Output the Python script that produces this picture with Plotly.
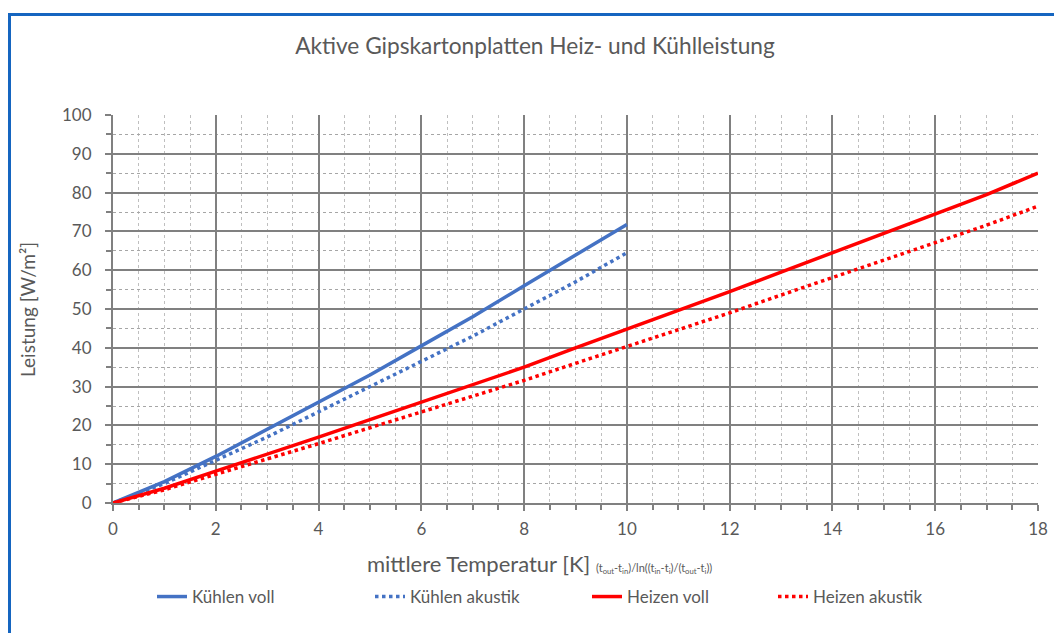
import plotly.graph_objects as go

x_kuehlen = [0, 1, 2, 3, 4, 5, 6, 7, 8, 9, 10]
y_kuehlen_voll = [0, 5.5, 12, 19, 26, 33, 40.5, 48, 56, 64, 71.8]
y_kuehlen_akustik = [0, 5, 11, 17, 23.5, 30, 36.5, 43, 50, 57, 64.5]

x_heizen = [0, 1, 2, 3, 4, 5, 6, 7, 8, 9, 10, 11, 12, 13, 14, 15, 16, 17, 18]
y_heizen_voll = [0, 3.8, 8.2, 12.5, 17, 21.5, 26, 30.5, 35, 40, 44.8, 49.5, 54.5,
                 59.5, 64.5, 69.5, 74.5, 79.5, 85]
y_heizen_akustik = [0, 3.4, 7.4, 11.3, 15.3, 19.4, 23.4, 27.5, 31.6, 36, 40.3, 44.6,
                    49, 53.6, 58.1, 62.6, 67.1, 71.6, 76.5]

x_ticks = [0, 2, 4, 6, 8, 10, 12, 14, 16, 18]
y_ticks = [0, 10, 20, 30, 40, 50, 60, 70, 80, 90, 100]

FONT = "Lato, Carlito, Calibri, sans-serif"
TXT = "#595959"
BLUE = "#4472C4"
RED = "#FF0000"

# figure is placed by the page at offset (8, 8)
W, H = 1054, 625
L, R, T, B = 105, 24, 107, 130
PW, PH = W - L - R, H - T - B


def px_to_paper_x(page_x):
    return (page_x - 8 - L) / PW


def px_to_paper_y(page_y):
    return (H - B - (page_y - 8)) / PH


fig = go.Figure()
fig.add_trace(go.Scatter(x=x_kuehlen, y=y_kuehlen_voll, mode="lines", name="Kühlen voll",
                         line=dict(color=BLUE, width=3.5), legend="legend"))
fig.add_trace(go.Scatter(x=x_kuehlen, y=y_kuehlen_akustik, mode="lines", name="Kühlen akustik",
                         line=dict(color=BLUE, width=3.5, dash="dot"), legend="legend2"))
fig.add_trace(go.Scatter(x=x_heizen, y=y_heizen_voll, mode="lines", name="Heizen voll",
                         line=dict(color=RED, width=3.5), legend="legend3"))
fig.add_trace(go.Scatter(x=x_heizen, y=y_heizen_akustik, mode="lines", name="Heizen akustik",
                         line=dict(color=RED, width=3.5, dash="dot"), legend="legend4"))

axis_common = dict(
    showgrid=True, gridcolor="#808080", gridwidth=1.5,
    showline=True, linecolor="#808080", linewidth=2,
    ticks="outside", ticklen=6, tickcolor="#808080", tickwidth=1.5,
    tickfont=dict(family=FONT, size=17, color=TXT),
    zeroline=False, mirror=False,
)

fig.update_xaxes(
    range=[0, 18], tickvals=x_ticks, ticklabelstandoff=4, **axis_common,
    minor=dict(dtick=0.5, showgrid=True, gridcolor="#BFBFBF", griddash="dot", gridwidth=1,
               ticks="outside", ticklen=5, tickcolor="#808080"),
)
fig.update_yaxes(
    range=[0, 100], tickvals=y_ticks, ticklabelstandoff=10, **axis_common,
    minor=dict(dtick=5, showgrid=True, gridcolor="#A6A6A6", griddash="dot", gridwidth=1,
               ticks="outside", ticklen=5, tickcolor="#808080"),
)

leg_common = dict(orientation="h", xanchor="left", yanchor="middle", y=px_to_paper_y(597),
                  font=dict(family=FONT, size=17, color=TXT), bgcolor="rgba(0,0,0,0)")
text_starts = [202, 420, 637, 823]

x_title = ("mittlere Temperatur [K] <span style='font-size:11px'>(t<sub>out</sub>-t<sub>in</sub>)"
           "/ln((t<sub>in</sub>-t<sub>i</sub>)/(t<sub>out</sub>-t<sub>i</sub>))</span>")

fig.update_layout(
    width=W, height=H,
    margin=dict(l=L, r=R, t=T, b=B, autoexpand=False),
    paper_bgcolor="white", plot_bgcolor="white",
    title=dict(text="Aktive Gipskartonplatten Heiz- und Kühlleistung", x=0.5, xanchor="center",
               y=1 - (46 - 8) / H, yanchor="middle", font=dict(family=FONT, size=22.7, color=TXT)),
    legend=dict(x=px_to_paper_x(text_starts[0] - 50), **leg_common),
    legend2=dict(x=px_to_paper_x(text_starts[1] - 50), **leg_common),
    legend3=dict(x=px_to_paper_x(text_starts[2] - 50), **leg_common),
    legend4=dict(x=px_to_paper_x(text_starts[3] - 50), **leg_common),
    showlegend=True,
    annotations=[
        dict(text=x_title, xref="paper", yref="paper", x=px_to_paper_x(539), y=px_to_paper_y(563),
             xanchor="center", yanchor="middle", showarrow=False,
             font=dict(family=FONT, size=22, color=TXT)),
        dict(text="Leistung [W/m²]", xref="paper", yref="paper", x=px_to_paper_x(27),
             y=px_to_paper_y(310), xanchor="center", yanchor="middle", showarrow=False,
             textangle=-90, font=dict(family=FONT, size=19, color=TXT)),
    ],
    shapes=[dict(type="rect", xref="paper", yref="paper",
                 x0=px_to_paper_x(9.5), x1=1.3, y0=-0.6, y1=px_to_paper_y(14.5),
                 line=dict(color="#1565C0", width=3), fillcolor="rgba(0,0,0,0)", layer="above")],
)

fig.write_html("out.html")
